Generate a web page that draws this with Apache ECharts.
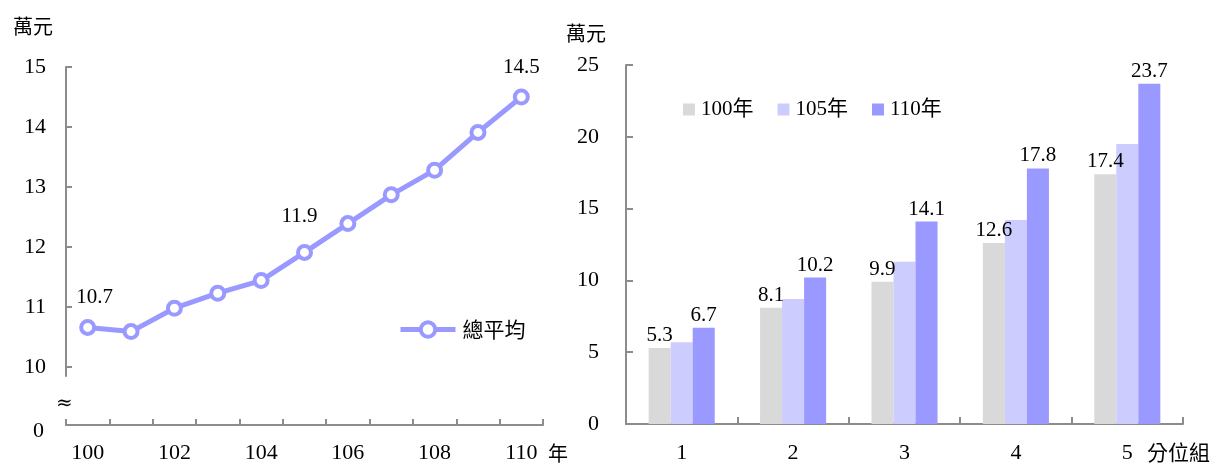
<!DOCTYPE html>
<html>
<head>
<meta charset="utf-8">
<script src="https://cdn.jsdelivr.net/npm/echarts@6/dist/echarts.min.js"></script>
<style>
html,body{margin:0;padding:0;background:#fff;}
#chart{width:1217px;height:464px;}
</style>
</head>
<body>
<div id="chart"></div>
<script>
// ---- data ----
const years = ['100','101','102','103','104','105','106','107','108','109','110'];
const avgIncome = [10.66, 10.59, 10.98, 11.23, 11.44, 11.91, 12.39, 12.87, 13.28, 13.91, 14.5];
const labeledYears = ['100','105','110'];
const leftTickValues = [10, 11, 12, 13, 14, 15];
const quintiles = ['1','2','3','4','5'];
const inc100 = [5.3, 8.1, 9.9, 12.6, 17.4];
const inc105 = [5.7, 8.7, 11.3, 14.2, 19.5];
const inc110 = [6.7, 10.2, 14.1, 17.8, 23.7];
const barSeriesNames = ['100年','105年','110年'];

// ---- styles ----
const FONT = "'Liberation Serif', 'Noto Sans CJK TC', serif";
const CJK = "'Noto Sans CJK TC', 'Liberation Serif', serif";
const AXIS = '#8C8C8C';
const C_LINE = '#9999FF';
const C100 = '#D9D9D9', C105 = '#CCCCFF', C110 = '#9999FF';

const labelTweaks = {
  '100': {distance: 11, offset: [7, 0]},
  '105': {distance: 17, offset: [-5, 0]},
  '110': {distance: 11, offset: [0, 0]}
};

const lineData = avgIncome.map((v, i) => {
  const y = years[i];
  if (labeledYears.indexOf(y) >= 0) {
    const t = labelTweaks[y];
    return {value: v, label: {show: true, distance: t.distance, offset: t.offset}};
  }
  return v;
});

const axisLineStyle = {show: true, lineStyle: {color: AXIS, width: 2}};

const chart = echarts.init(document.getElementById('chart'), null, {renderer: 'canvas'});
chart.setOption({
  animation: false,
  backgroundColor: '#fff',
  textStyle: {fontFamily: FONT, color: '#000'},
  grid: [
    {left: 66, top: 67, width: 477, height: 309},
    {left: 66, top: 420, width: 477, height: 6},
    {left: 626, top: 65, width: 557, height: 361}
  ],
  legend: [
    {
      data: ['總平均'], left: 393, top: 314, itemWidth: 55, itemHeight: 18, itemGap: 0,
      lineStyle: {color: C_LINE, width: 5},
      itemStyle: {color: '#FFFFFF', borderColor: C_LINE, borderWidth: 4},
      textStyle: {fontFamily: CJK, fontSize: 21, color: '#000', padding: [0, 0, 0, 2]}
    },
    {
      data: barSeriesNames, left: 678, top: 94, itemWidth: 12, itemHeight: 12, itemGap: 24,
      icon: 'rect',
      textStyle: {fontFamily: FONT, fontSize: 21, color: '#000', padding: [0, 0, 0, 1]}
    }
  ],
  xAxis: [
    {gridIndex: 0, type: 'category', data: years, show: false},
    {
      gridIndex: 1, type: 'category', data: years, boundaryGap: true,
      axisLine: axisLineStyle,
      axisTick: {show: true, interval: 0, inside: true, length: 6, lineStyle: {color: AXIS, width: 2}},
      axisLabel: {interval: 1, margin: 17, fontSize: 22, color: '#000', fontFamily: FONT},
      name: '年', nameLocation: 'end', nameGap: 5,
      nameTextStyle: {fontFamily: CJK, fontSize: 20, color: '#000', align: 'left', verticalAlign: 'top', padding: [18, 0, 0, 0]}
    },
    {
      gridIndex: 2, type: 'category', data: quintiles, boundaryGap: true,
      axisLine: axisLineStyle,
      axisTick: {show: true, interval: 0, inside: true, length: 7, lineStyle: {color: AXIS, width: 2}},
      axisLabel: {margin: 18, fontSize: 22, color: '#000', fontFamily: FONT},
      name: '分位組', nameLocation: 'end', nameGap: -36,
      nameTextStyle: {fontFamily: CJK, fontSize: 21, color: '#000', align: 'left', verticalAlign: 'top', padding: [18, 0, 0, 0]}
    }
  ],
  yAxis: [
    {
      gridIndex: 0, type: 'value', min: 9.85, max: 15,
      splitLine: {show: false},
      axisLine: axisLineStyle,
      axisTick: {show: true, inside: true, length: 6, customValues: leftTickValues, lineStyle: {color: AXIS, width: 2}},
      axisLabel: {customValues: leftTickValues, margin: 20, fontSize: 22, color: '#000', fontFamily: FONT},
      name: '萬元', nameLocation: 'end', nameGap: 41,
      nameTextStyle: {fontFamily: CJK, fontSize: 20, color: '#000', align: 'right', verticalAlign: 'middle', padding: [0, 13, 0, 0]}
    },
    {
      gridIndex: 1, type: 'value', min: 0, max: 1,
      splitLine: {show: false},
      axisLine: axisLineStyle,
      axisTick: {show: false},
      axisLabel: {
        customValues: [0], margin: 22, color: '#000',
        formatter: v => '{z|' + v + '}',
        rich: {z: {fontSize: 22, fontFamily: FONT, color: '#000', padding: [12, 0, 0, 0]}}
      }
    },
    {
      gridIndex: 2, type: 'value', min: 0, max: 25, interval: 5,
      splitLine: {show: false},
      axisLine: axisLineStyle,
      axisTick: {show: true, inside: true, length: 7, lineStyle: {color: AXIS, width: 2}},
      axisLabel: {margin: 27, fontSize: 22, color: '#000', fontFamily: FONT},
      name: '萬元', nameLocation: 'end', nameGap: 32,
      nameTextStyle: {fontFamily: CJK, fontSize: 20, color: '#000', align: 'right', verticalAlign: 'middle', padding: [0, 20, 0, 0]}
    }
  ],
  graphic: [
    {type: 'text', left: 56, top: 394, style: {text: '≈', font: "20px 'DejaVu Serif', serif", fill: '#000'}}
  ],
  series: [
    {
      name: '總平均', type: 'line', xAxisIndex: 0, yAxisIndex: 0,
      data: lineData,
      symbol: 'circle', symbolSize: 13,
      lineStyle: {color: C_LINE, width: 5},
      itemStyle: {color: '#FFFFFF', borderColor: C_LINE, borderWidth: 4},
      label: {show: false, position: 'top', fontSize: 21, color: '#000', fontFamily: FONT,
        formatter: p => p.value.toFixed(1)}
    },
    {
      name: '100年', type: 'bar', xAxisIndex: 2, yAxisIndex: 2, data: inc100,
      itemStyle: {color: C100}, barGap: '0%', barCategoryGap: '40.7%',
      label: {show: true, position: 'top', distance: 2, fontSize: 21, color: '#000', fontFamily: FONT,
        formatter: p => p.value.toFixed(1)}
    },
    {
      name: '105年', type: 'bar', xAxisIndex: 2, yAxisIndex: 2, data: inc105,
      itemStyle: {color: C105}, barGap: '0%', barCategoryGap: '40.7%'
    },
    {
      name: '110年', type: 'bar', xAxisIndex: 2, yAxisIndex: 2, data: inc110,
      itemStyle: {color: C110}, barGap: '0%', barCategoryGap: '40.7%',
      label: {show: true, position: 'top', distance: 2, fontSize: 21, color: '#000', fontFamily: FONT,
        formatter: p => p.value.toFixed(1)}
    }
  ]
});
</script>
</body>
</html>
